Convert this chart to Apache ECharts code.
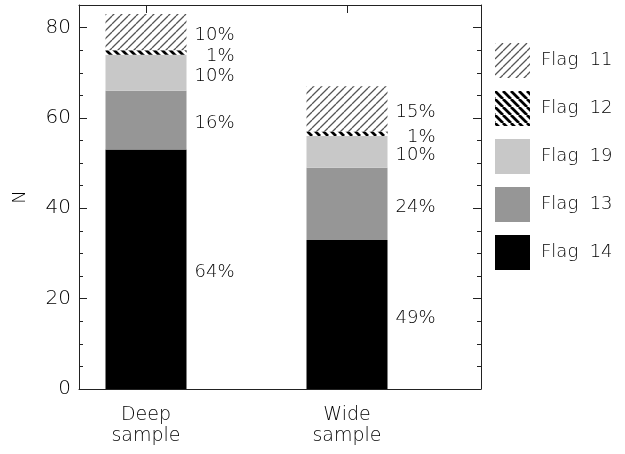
<!DOCTYPE html>
<html><head><meta charset="utf-8">
<script src="https://cdn.jsdelivr.net/npm/echarts@6/dist/echarts.min.js"></script>
<style>html,body{margin:0;padding:0;background:#fff}#c{width:625px;height:454px}</style>
</head><body><div id="c"></div>
<script>
// Data
const samples = ['Deep\nsample', 'Wide\nsample'];
const slotCount = 7;          // positions along the x axis
const xPos = [1, 4];          // slot of each sample
const flag14 = [53, 33];
const flag13 = [13, 16];
const flag19 = [8, 7];
const flag12 = [1, 1];
const flag11 = [8, 10];
const yTicksMajor = [0, 20, 40, 60, 80];
const legendNames = ['Flag 11', 'Flag 12', 'Flag 19', 'Flag 13', 'Flag 14'];

const slots = Array.from({ length: slotCount }, (_, i) => {
  const k = xPos.indexOf(i); return k >= 0 ? samples[k] : '';
});

function hatch(size, dir, color, lw) {
  const c = document.createElement('canvas');
  c.width = size; c.height = size;
  const g = c.getContext('2d');
  g.fillStyle = '#fff'; g.fillRect(0, 0, size, size);
  g.strokeStyle = color; g.lineWidth = lw;
  g.beginPath();
  for (let k = -1; k <= 1; k++) {
    if (dir === '/') { g.moveTo(k * size, size); g.lineTo(k * size + size, 0); }
    else { g.moveTo(k * size, 0); g.lineTo(k * size + size, size); }
  }
  g.stroke();
  return { image: c, repeat: 'repeat' };
}

const totals = xPos.map((_, i) => flag14[i] + flag13[i] + flag19[i] + flag12[i] + flag11[i]);
const FONT = 'DejaVu Sans';
const FW = 200;
const TXT = '#000';

function mk(name, arr, color) {
  const data = slots.map((_, s) => { const k = xPos.indexOf(s); return k >= 0 ? arr[k] : null; });
  return {
    name: name, type: 'bar', stack: 'all', barWidth: 81,
    xAxisIndex: 0, yAxisIndex: 0,
    data: data,
    itemStyle: { color: color },
    label: {
      show: true, position: 'right', distance: 48, align: 'right', offset: [0, 3.5],
      fontFamily: FONT, fontWeight: FW, fontSize: 18, color: TXT,
      formatter: p => { const k = xPos.indexOf(p.dataIndex); return Math.round(arr[k] / totals[k] * 100) + '%'; }
    },
    emphasis: { disabled: true }, animation: false
  };
}

const LC = '#222';
const axisLineStyle = { show: true, onZero: false, lineStyle: { color: LC, width: 1 } };
const gridRect = { left: 79, right: 144, top: 5, bottom: 65 };

const chart = echarts.init(document.getElementById('c'));
chart.setOption({
  animation: false,
  grid: [Object.assign({}, gridRect), Object.assign({}, gridRect)],
  legend: {
    orient: 'vertical', left: 495, top: 43, padding: 0,
    itemWidth: 35, itemHeight: 35, itemGap: 13, icon: 'rect',
    data: legendNames,
    formatter: n => n.replace(' ', '  '),
    textStyle: { fontFamily: FONT, fontWeight: FW, fontSize: 18, color: TXT, padding: [0, 0, 0, 6] }
  },
  xAxis: [
    { type: 'category', gridIndex: 0, position: 'bottom', data: slots, boundaryGap: false,
      axisLine: axisLineStyle, splitLine: { show: false },
      axisTick: { show: false },
      axisLabel: { interval: 0, fontFamily: FONT, fontWeight: FW, fontSize: 19, lineHeight: 21, color: TXT, margin: 16 } },
    { type: 'category', gridIndex: 0, position: 'top', data: slots, boundaryGap: false,
      axisLine: axisLineStyle, splitLine: { show: false },
      axisTick: { show: true, inside: true, length: 8, interval: (i, v) => v !== '', lineStyle: { color: LC } },
      axisLabel: { show: false } },
    { type: 'value', gridIndex: 1, min: 0, max: 1, show: false }
  ],
  yAxis: [
    { type: 'value', gridIndex: 0, position: 'left', min: 0, max: 85, interval: 5,
      axisLine: axisLineStyle, splitLine: { show: false },
      axisTick: { show: true, inside: true, length: 4, lineStyle: { color: LC } },
      axisLabel: { formatter: v => (yTicksMajor.indexOf(v) >= 0 ? String(v) : ''),
        fontFamily: FONT, fontWeight: FW, fontSize: 20, color: TXT, margin: 8 },
      name: 'N', nameLocation: 'middle', nameGap: 50, nameRotate: 90,
      nameTextStyle: { fontFamily: FONT, fontWeight: FW, fontSize: 18, color: TXT } },
    { type: 'value', gridIndex: 0, position: 'right', min: 0, max: 85, interval: 5,
      axisLine: axisLineStyle, splitLine: { show: false },
      axisTick: { show: true, inside: true, length: 4, lineStyle: { color: LC } },
      axisLabel: { show: false } },
    { type: 'value', gridIndex: 1, position: 'left', min: 0, max: 85, interval: 20,
      axisLine: { show: false, onZero: false }, splitLine: { show: false },
      axisTick: { show: true, inside: true, length: 8, lineStyle: { color: LC } },
      axisLabel: { show: false } },
    { type: 'value', gridIndex: 1, position: 'right', min: 0, max: 85, interval: 20,
      axisLine: { show: false, onZero: false }, splitLine: { show: false },
      axisTick: { show: true, inside: true, length: 8, lineStyle: { color: LC } },
      axisLabel: { show: false } }
  ],
  series: [
    mk('Flag 14', flag14, '#000000'),
    mk('Flag 13', flag13, '#969696'),
    mk('Flag 19', flag19, '#c8c8c8'),
    mk('Flag 12', flag12, hatch(8, '\\', '#000', 2.8)),
    mk('Flag 11', flag11, hatch(8, '/', '#555', 1.3))
  ]
});
</script></body></html>
